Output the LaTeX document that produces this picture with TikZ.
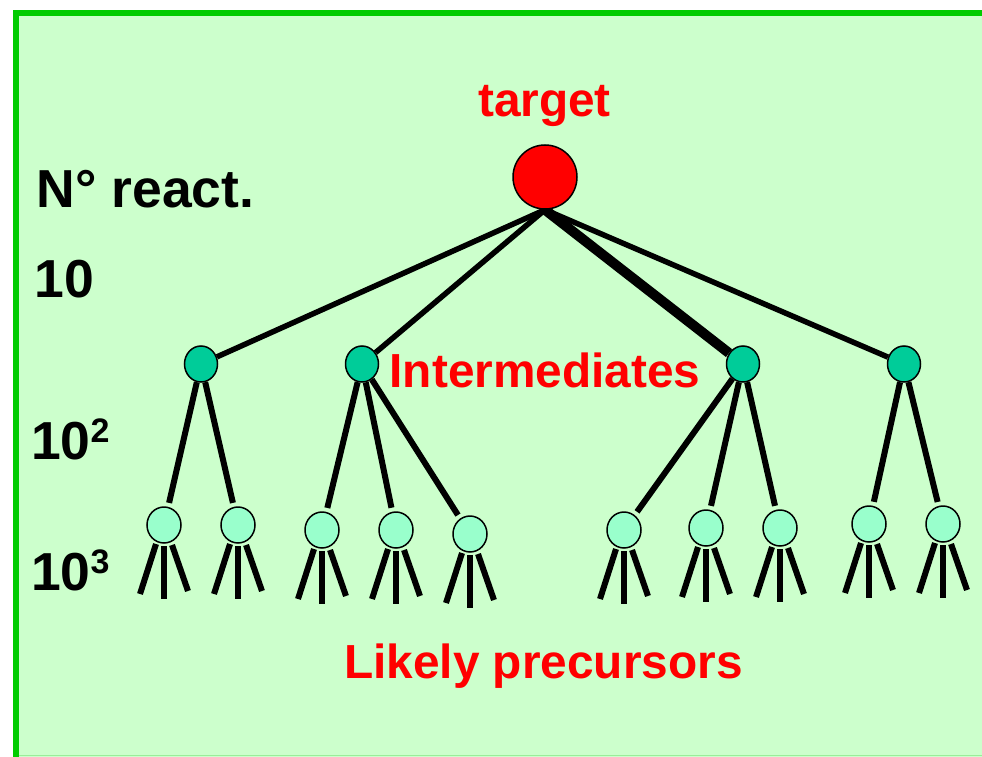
\documentclass[tikz,border=0pt]{standalone}
\usepackage{fontspec}
\setmainfont{Liberation Sans}
\usetikzlibrary{shapes.geometric,backgrounds}
\definecolor{bgc}{HTML}{CCFFCC}
\definecolor{framec}{HTML}{00CC00}
\definecolor{framelight}{HTML}{99EE99}
\definecolor{interc}{HTML}{00CC99}
\definecolor{leafc}{HTML}{99FFCC}
\definecolor{redc}{HTML}{FF0000}
\tikzset{
  targetnode/.style={circle, draw=black, line width=1.5, fill=redc, minimum size=64, inner sep=0},
  internode/.style={ellipse, draw=black, line width=1.5, fill=interc, minimum width=33, minimum height=36, inner sep=0},
  leafnode/.style={ellipse, draw=black, line width=1.5, fill=leafc, minimum width=34, minimum height=36, inner sep=0},
  topedge/.style={line width=5.5, black},
  thickedge/.style={line width=10, black},
  subedge/.style={line width=6, black, shorten >=4},
  fanline/.style={line width=6, black},
  redlabel/.style={text=redc, font=\fontsize{47.8}{56}\selectfont\bfseries, inner sep=0, anchor=base},
  blacklabel/.style={text=black, font=\fontsize{53.5}{60}\selectfont\bfseries, inner sep=0, anchor=base west}
}
\begin{document}
\begin{tikzpicture}[x=1pt,y=-1pt]
\useasboundingbox (0,0) rectangle (982,757);
% nodes
\node[targetnode] (t) at (545,177) {};
\node[internode] (i1) at (201,364) {};
\node[internode] (i2) at (362,364) {};
\node[internode] (i3) at (743,364) {};
\node[internode] (i4) at (904,364) {};
\node[leafnode] (l1) at (164,525) {};
\node[leafnode] (l2) at (238,525) {};
\node[leafnode] (l3) at (322,530) {};
\node[leafnode] (l4) at (396,530) {};
\node[leafnode] (l5) at (470,534) {};
\node[leafnode] (l6) at (624,530) {};
\node[leafnode] (l7) at (706,528) {};
\node[leafnode] (l8) at (780,528) {};
\node[leafnode] (l9) at (869,524) {};
\node[leafnode] (l10) at (943,524) {};
% labels
\node[redlabel] (lt) at (544.5,117) {target};
\node[redlabel] (li) at (545,387) {Intermediates};
\node[redlabel] (lp) at (543.5,678) {Likely precursors};
\node[blacklabel] (nr) at (36.5,207) {N° react.};
\node[blacklabel] (n1) at (34.5,297) {10};
\node[blacklabel] (n2) at (31,459) {10\raisebox{17pt}{\fontsize{34}{40}\selectfont 2}};
\node[blacklabel] (n3) at (31,590) {10\raisebox{17pt}{\fontsize{34}{40}\selectfont 3}};
\begin{scope}[on background layer]
  \fill[white] (0,0) rectangle (982,757);
  \fill[bgc] (16,13) rectangle (982,757);
  \draw[framelight, line width=1.5] (19,755.5) -- (982,755.5);
  \draw[framec, line width=6] (16,757) -- (16,13) -- (982,13);
  % target to intermediates
  \draw[topedge] (t.south) -- (i1);
  \draw[topedge] (t.south) -- (i2);
  \draw[thickedge] (t.south) -- (i3);
  \draw[topedge] (t.south) -- (i4);
  % intermediates to leaves
  \draw[subedge] (i1) -- (l1);
  \draw[subedge] (i1) -- (l2);
  \draw[subedge] (i2) -- (l3);
  \draw[subedge] (i2) -- (l4);
  \draw[subedge] (i2) -- (l5);
  \draw[subedge] (i3) -- (l6);
  \draw[subedge] (i3) -- (l7);
  \draw[subedge] (i3) -- (l8);
  \draw[subedge] (i4) -- (l9);
  \draw[subedge] (i4) -- (l10);
  % fans below leaves
  \foreach \n in {l1,l2,l3,l4,l5,l6,l7,l8,l9,l10} {
    \draw[fanline] ([shift={(-8,19)}]\n.center) -- ++(-16,50);
    \draw[fanline] ([shift={(0,21)}]\n.center) -- ++(0,53);
    \draw[fanline] ([shift={(8,20)}]\n.center) -- ++(16,46);
  }
\end{scope}
\end{tikzpicture}
\end{document}
